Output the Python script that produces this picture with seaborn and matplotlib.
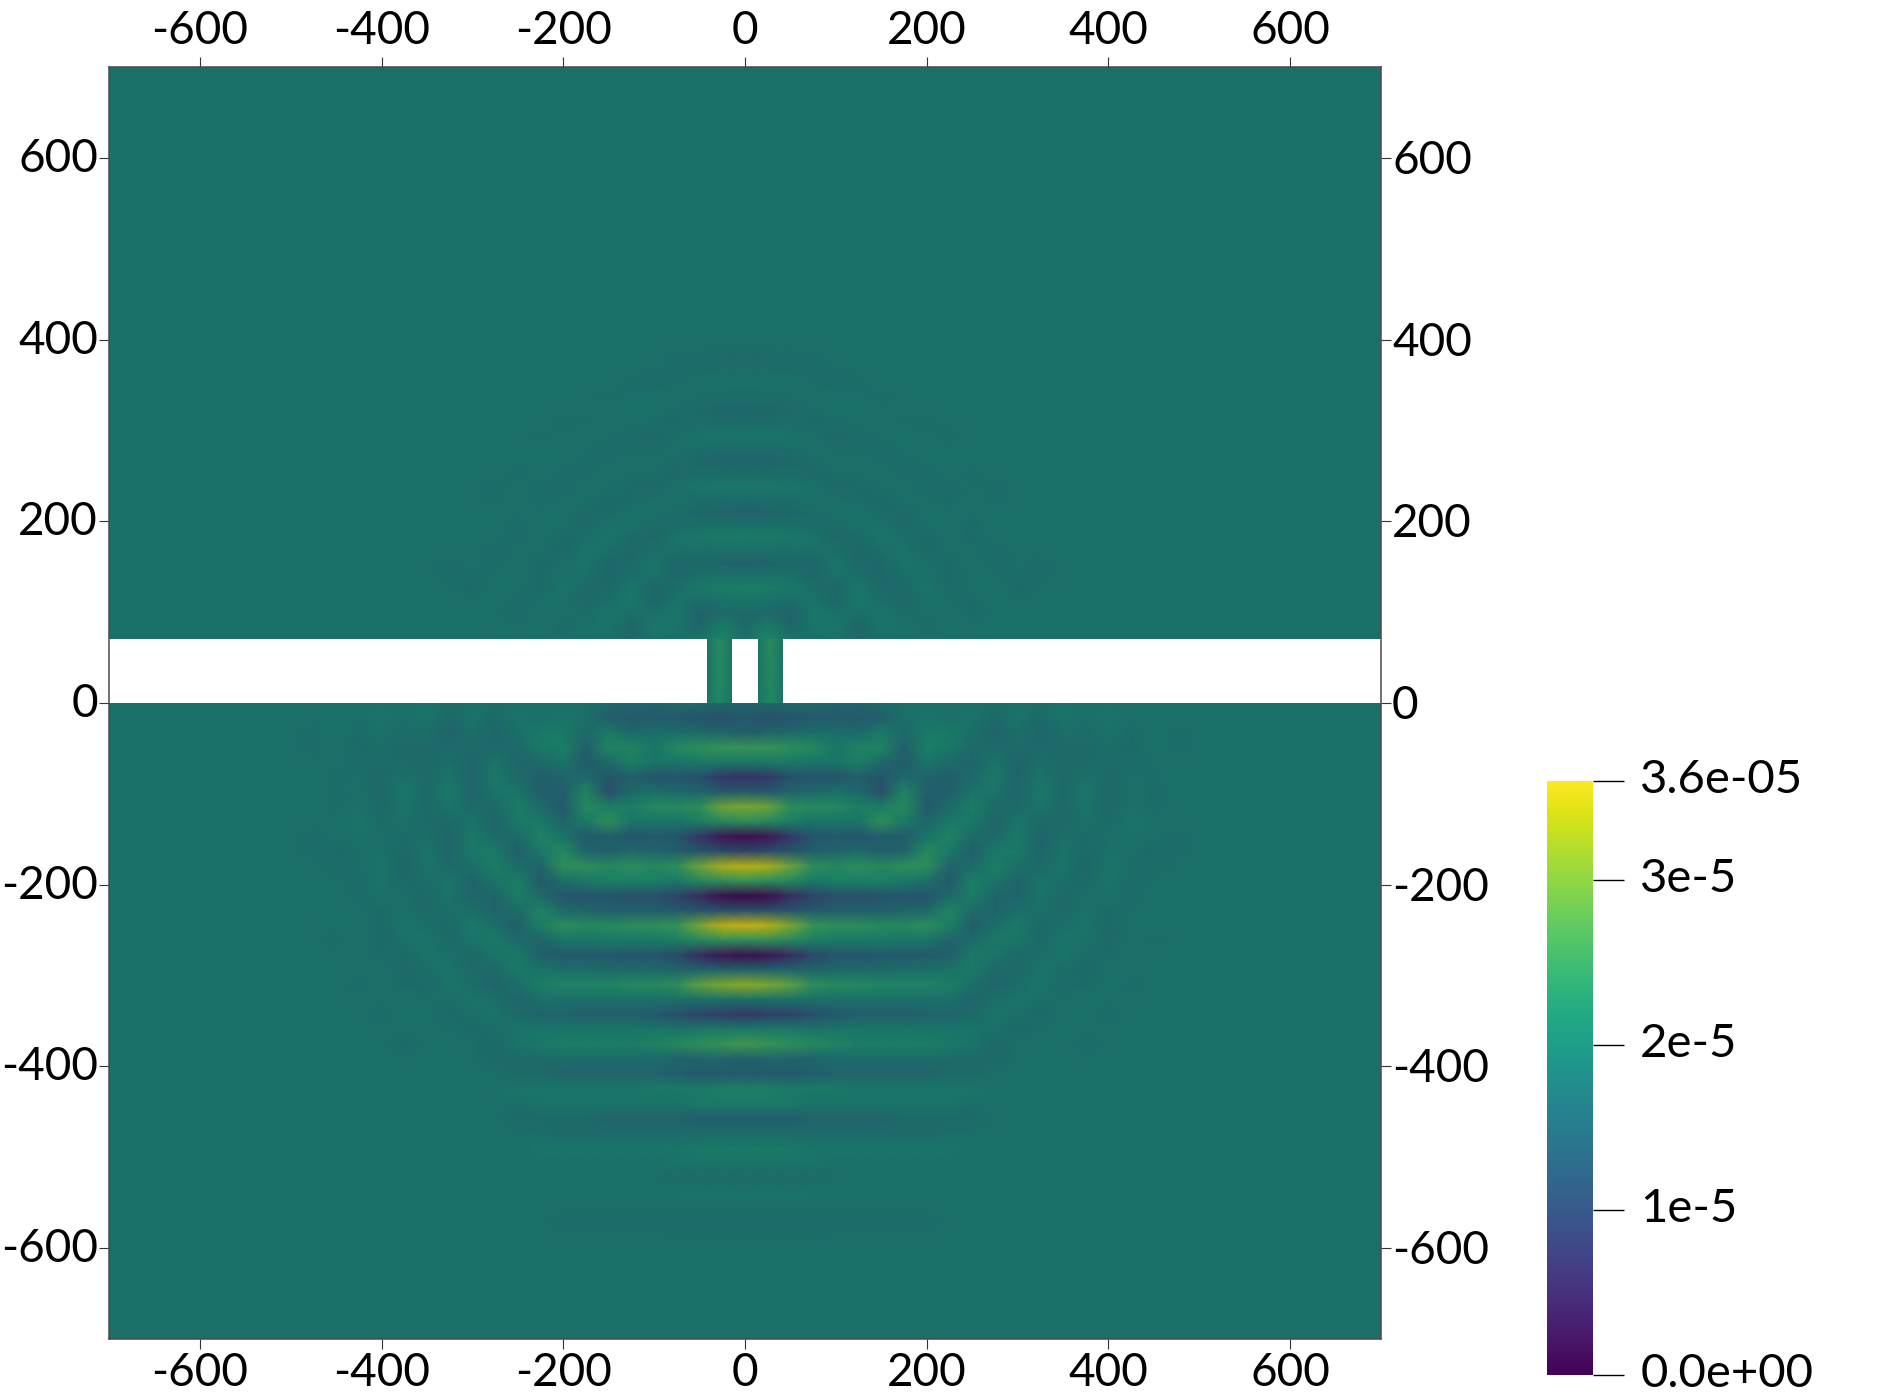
import matplotlib
matplotlib.use("Agg")
import matplotlib.pyplot as plt
from matplotlib.cm import ScalarMappable
from matplotlib.colors import ListedColormap, Normalize
from matplotlib.transforms import ScaledTranslation
import numpy as np
import seaborn as sns

sns.set_theme(style="white")
plt.rcParams["font.family"] = ["Lato", "DejaVu Sans"]
plt.rcParams["axes.unicode_minus"] = False

W, H = 1880, 1400
VMIN, VMAX = 0.0, 36.0   # field values are in units of 1e-6
BASE = 18.0

# ---- below the wall: one list per |x| (25 apart), rows go down 16.33 apart from y=0
low_000 = [16,14,15,25,20,7,14,30,24,2,10,34,25,1,12,35,24,2,16,31,18,8,20,26,15,14,21,20,15,17,20,19,17,18.7,18,17.3,17.8]
low_025 = [16,12.5,16,25,20,8,14,29,23,3,11,33,24,2,12,34,24,3,16,30,18,9,20,25,16,14,21,20,15,17,20,19,17,18.7,18,17.3,17.8]
low_050 = [17,13,17,24,20,12,16,24,21,8,13,29,23,6,13,30,23,6,16,28,18,10,20,24,16,14,20,20,15,17,20,19,17,18.7,18,17.3,17.8]
low_075 = [17,14,18,23,19,13,17,23,19,13,15,24,20,10,14,25,21,11,16,24,18,12,19,23,16,15,20,19,16,17,19,19,17,18.6,18,17.4,17.8]
low_100 = [16,14,18,19.5,19,13,18,23,19,14,16,23,21,12,15,24,20,13,17,23,18,14,19,22,17,16,20,19,16,17,19,18,18,18.5,18,17.5,18]
low_125 = [16,14,17,22,21,15,17,21,19,13,17,24,21,12,15,24,20,13,17,23,18,15,19,21,17,16,19,19,16,17,19,18,18,18.5,18,17.5,18]
low_150 = [17,15,20,22,17,13,12,21,24,15,15,23,21,13,15,23,20,14,17,22,18,15,19,21,17,16,19,19,16,17,19,18,18,18.5,18,17.5,18]
low_175 = [18,18,17,15,14,17,22,23,20,14,16,24,20,13,16,23,19,14,18,22,18,15,19,21,17,16,19,19,17,17,19,18,18,18.5,18,17.5,18]
low_200 = [18,19,20,21,19,16,15,14,16,19,23,24,18,13,17,24,19,14,18,22,18,16,19,21,17,16,19,19,17,17,19,18,18,18.5,18,17.5,18]
low_225 = [18,18,20,20,17,15,15,17,20,22,20,16,14,17,22,21,16,15,19,21,18,16,19,20,17,17,19,19,17,18,19,18,18]
low_250 = [18,19,18,17,16,17,19,21,20,17,15,17,21,21,17,15,17,20,20,18,16,17,19,19,17,17,19,18,17,18,18,18,18]
low_275 = [18,17,16,17,19,20,19,17,16,17,20,21,19,16,16,18,20,19,17,16,18,19,18,17,17,18,18,18]
low_300 = [18,19,18,17,16,16,16,17,19,20,20,18,16,16,18,20,19,17,17,18,19,18,17,18]
low_325 = [18,17,16,17,18,19,20,19,17,16,16,17,19,19,18,17,17,18,19,19,18,17,18]
low_350 = [19,19,18,17,17,17,17,17,17,18,19,19,18,17,17,18,19,19,18,17,18,18.5]
low_375 = [18,18,17.5,17,17.5,18.5,19.5,19,18.5,17.5,16.8,16.5,17,18,18.5,19,18.5,17.5,17,17.5,18.5,18.5,18,17.5]
low_400 = [18.5,19,18.5,18,17.5,17,16.8,16.8,17.5,18,18.5,19,19,18.5,17.5,17,17,17.5,18.5,18.5,18,17.5]
low_425 = [18,18,17.5,17.5,17.5,18,18.5,18.5,19,18.5,18,17.8,17.3,17.3,18,18.3,18.5,18.5,18,17.7]
low_450 = [18.2,18.5,18.7,18.5,18,17.7,17.5,17.7,18,18,17.5,17.3,18,18.5,18.5,18,17.7]
low_475 = [18,18,17.7,17.7,18,18.3,18.4,18.2,18,17.7,17.6,18,18.3,18.3]
low_cols = [low_000, low_025, low_050, low_075, low_100, low_125, low_150, low_175, low_200, low_225,
            low_250, low_275, low_300, low_325, low_350, low_375, low_400, low_425, low_450, low_475]

# ---- above the wall: one list per |x| (25 apart), rows go up 14 apart from y=70
up_000 = [18,17.5,16.5,19,21,18.5,15.5,18,20.5,18,15.5,17.5,19.5,17.5,16,17.5,19,17.5,16.5,17.7,18.7,17.8,17,18,18.3]
up_025 = [22,20.5,17,18.5,20.5,18.5,16,18,20,18,15.8,17.5,19.5,17.5,16,17.5,19,17.5,16.5,17.7,18.7,17.8,17,18,18.3]
up_050 = [19,16.5,15.5,17.5,19.5,18.5,16.5,18,19.5,18,16.5,17.7,19,17.7,16.7,17.7,18.7,17.8,17,17.8,18.4,17.8,17.4]
up_075 = [18,19,19.5,19,18,16.5,16.3,18,19.2,17.3,17.3,18.7,18.3,17,17.3,18.5,18,17,17.7,18.3,18,17.5,17.7]
up_100 = [18.5,19.5,18.5,16.5,16.3,18.5,19.2,18,16.8,17.3,18.7,18,17,17.7,18.3,17.7,17,17.7,18.3,18,17.5,17.7]
up_125 = [17,16.5,18,19.5,19.5,18,17,16.7,17.5,18.7,18.5,17.5,17.2,18,18.3,17.7,17.3,18,18.3,18,17.7]
up_150 = [18,19,19,18,17,16.5,16.7,18,19,18.5,17.5,17.2,18,18.3,17.7,17.3,18,18.3,18,17.7]
up_175 = [18.5,18.5,18,17,17,18,19,19,18,17,17.2,18,18.4,17.6,17.6,18,18.3,17.7]
up_200 = [18,17.5,18,18.5,19,18.5,18,17,17,18,18.5,18,17.5,17.6,18,18.3,18,17.7]
up_225 = [18,18.5,18.5,18,17.5,17,17.5,18,18.5,18.5,18,17.5,17.6,18,18.3,18,17.7]
up_250 = [18.5,18,17.5,17.5,18,18.5,18.5,18,17.5,17.5,18,18.4,18,17.7]
up_275 = [18,18,18,18.5,18.5,18,17.5,17.5,18,18.4,18,17.7,17.7]
up_300 = [18,18,18,18,17.5,17.5,18,18,18.4,18.4,18]
up_325 = [18,18,18,18,18,17.6,17.6,18,18,18.3,18.3]
up_cols = [up_000, up_025, up_050, up_075, up_100, up_125, up_150, up_175, up_200, up_225,
           up_250, up_275, up_300, up_325]

# ---- the two openings in the wall, three columns each, top and bottom row
slit_edge = [19, 19]
slit_mid = [23.5, 22.5]

tick_vals = [-600, -400, -200, 0, 200, 400, 600]
tick_text = ["-600", "-400", "-200", "0", "200", "400", "600"]
cbar_ticks = [0, 10, 20, 30, 36]
cbar_text = ["0.0e+00", "1e-5", "2e-5", "3e-5", "3.6e-05"]

# domain in data units
X_MIN, X_MAX, Y_MIN, Y_MAX = -700, 700, -700, 700
WALL_TOP = 70
LOW_STEP, UP_STEP = 16.33, 14
LEFT_SLIT = (-42, -14)
RIGHT_SLIT = (14, 42)

# plot box in pixels
BOX_L, BOX_R, BOX_T, BOX_B = 109, 1381, 67, 1339


def px_axes(fig, x0, y0, x1, y1):
    return fig.add_axes([x0 / W, 1 - y1 / H, (x1 - x0) / W, (y1 - y0) / H])


def to_px(x, y):
    px = BOX_L + (x - X_MIN) / (X_MAX - X_MIN) * (BOX_R - BOX_L)
    py = BOX_T + (Y_MAX - y) / (Y_MAX - Y_MIN) * (BOX_B - BOX_T)
    return px, py


def build_field(cols, n_rows):
    # flat background around the readings, left half is the mirror of the right
    half = np.full((n_rows, 29), BASE)
    for j, col in enumerate(cols):
        half[:len(col), j] = col
    return np.hstack([half[:, :0:-1], half])


def draw_block(fig, field, x0, y0, x1, y1, cmap):
    ax = px_axes(fig, x0, y0, x1, y1)
    sns.heatmap(field, ax=ax, cmap=cmap, vmin=VMIN, vmax=VMAX, cbar=False,
                xticklabels=False, yticklabels=False, shading="gouraud")
    ax.set_xlim(0, field.shape[1] - 1)
    ax.set_ylim(field.shape[0] - 1, 0)
    ax.set_axis_off()
    return ax


def nudge(label, dy_px):
    label.set_transform(label.get_transform() + ScaledTranslation(0, dy_px / 100, fig.dpi_scale_trans))


fig = plt.figure(figsize=(W / 100, H / 100), dpi=100, facecolor="white")

# the field is lit in the picture, so it is darker than the colour bar
viridis = sns.color_palette("viridis", as_cmap=True)
lit = viridis(np.linspace(0, 1, 256))
lit[:, :3] *= [0.84, 0.77, 0.75]
lit_cmap = ListedColormap(lit)

# below the wall
x0, y0 = to_px(X_MIN, 0)
x1, y1 = to_px(X_MAX, Y_MIN)
ax_low = draw_block(fig, build_field(low_cols, 44), x0, y0, x1, y1, lit_cmap)
ax_low.set_ylim((0 - Y_MIN) / LOW_STEP, 0)

# above the wall
x0, y0 = to_px(X_MIN, Y_MAX)
x1, y1 = to_px(X_MAX, WALL_TOP)
ax_up = draw_block(fig, build_field(up_cols, 46), x0, y0, x1, y1, lit_cmap)
ax_up.set_ylim(0, (Y_MAX - WALL_TOP) / UP_STEP)

# the openings
slit_field = np.column_stack([slit_edge, slit_mid, slit_edge])
for a, b in [LEFT_SLIT, RIGHT_SLIT]:
    x0, y0 = to_px(a, WALL_TOP)
    x1, y1 = to_px(b, 0)
    draw_block(fig, slit_field, x0, y0, x1, y1, lit_cmap)

# frame and ticks on all four sides
ax = px_axes(fig, BOX_L, BOX_T, BOX_R, BOX_B)
ax.set_facecolor("none")
ax.set_xlim(X_MIN, X_MAX)
ax.set_ylim(Y_MIN, Y_MAX)
for s in ax.spines.values():
    s.set_visible(True)
    s.set_color("#4a4a4a")
    s.set_linewidth(1.1)
ax.set_xticks(tick_vals, tick_text)
ax.set_yticks(tick_vals, tick_text)
ax.tick_params(axis="both", which="major", direction="out", length=7, width=0.8, color="#333333",
               labelsize=33, labelcolor="black", top=True, right=True, left=True, bottom=True,
               labeltop=True, labelright=True, labelleft=True, labelbottom=True)
ax.tick_params(axis="x", which="major", pad=2)
ax.tick_params(axis="y", which="major", pad=1)
for tick in ax.xaxis.get_major_ticks():
    nudge(tick.label2, 2)
for tick in ax.yaxis.get_major_ticks():
    nudge(tick.label1, 3)
    nudge(tick.label2, 1)
    tick.label2.set_x(1.0)
ax.tick_params(axis="y", which="major", labelright=True)

# colour bar
cax = px_axes(fig, 1547, 781, 1593, 1375)
cbar = fig.colorbar(ScalarMappable(Normalize(VMIN, VMAX), cmap=viridis), cax=cax)
cbar.outline.set_visible(False)
cbar.set_ticks(cbar_ticks, labels=cbar_text)
cax.tick_params(axis="y", direction="out", length=22, width=1, color="black", labelsize=34, pad=12,
                labelcolor="black")
for tick in cax.yaxis.get_major_ticks():
    nudge(tick.label2, 5)

fig.savefig("out.png", dpi=100, facecolor="white")
plt.close(fig)
